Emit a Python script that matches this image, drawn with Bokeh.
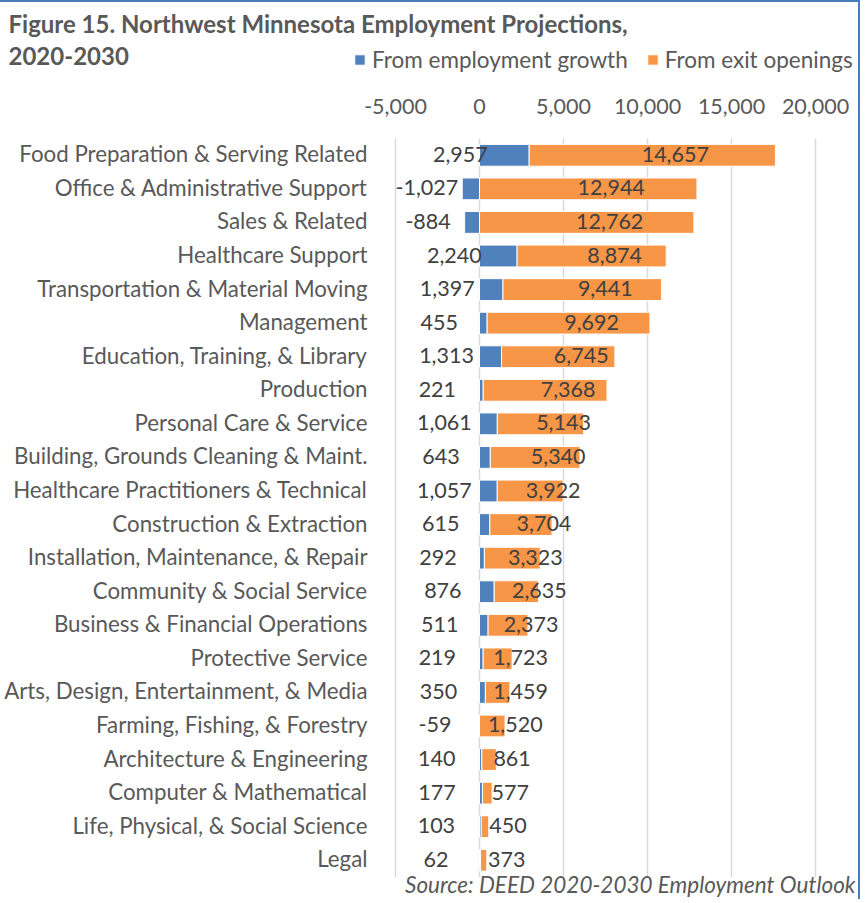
from bokeh.plotting import figure
from bokeh.models import (ColumnDataSource, Label, Range1d, Legend, LegendItem)
from bokeh.core.properties import value
from bokeh.embed import file_html
from bokeh.resources import INLINE

categories = [
    "Food Preparation & Serving Related",
    "Office & Administrative Support",
    "Sales & Related",
    "Healthcare Support",
    "Transportation & Material Moving",
    "Management",
    "Education, Training, & Library",
    "Production",
    "Personal Care & Service",
    "Building, Grounds Cleaning & Maint.",
    "Healthcare Practitioners & Technical",
    "Construction & Extraction",
    "Installation, Maintenance, & Repair",
    "Community & Social Service",
    "Business & Financial Operations",
    "Protective Service",
    "Arts, Design, Entertainment, & Media",
    "Farming, Fishing, & Forestry",
    "Architecture & Engineering",
    "Computer & Mathematical",
    "Life, Physical, & Social Science",
    "Legal",
]
growth = [2957, -1027, -884, 2240, 1397, 455, 1313, 221, 1061, 643, 1057,
          615, 292, 876, 511, 219, 350, -59, 140, 177, 103, 62]
exits = [14657, 12944, 12762, 8874, 9441, 9692, 6745, 7368, 5143, 5340, 3922,
         3704, 3323, 2635, 2373, 1723, 1459, 1520, 861, 577, 450, 373]
x_ticks = [-5000, 0, 5000, 10000, 15000, 20000]

BLUE = "#4f81bd"
ORANGE = "#f79646"
TXT = "#595959"
DARK = "#404040"
FONT = "Lato"
FS = "21.5px"
FS_CAT = "22.3px"
FS_LEG = "22.5px"

# ---- layout constants (pixels of the canvas) ----
W, H = 860, 899          # canvas; 2px border on top and right
TOP = 2                  # canvas starts 2px below page top (border)
X0_PX = 479              # pixel of value 0
PX_PER_UNIT = 84 / 5000
ROW0_PX = 154.8          # pixel centre of first row
ROW_PX = 33.57           # row pitch


def X(px):
    return (px - X0_PX) / PX_PER_UNIT


def Y(py):
    return (py - ROW0_PX) / ROW_PX


n = len(categories)
idx = list(range(n))
g_left = [min(g, 0) for g in growth]
g_right = [max(g, 0) for g in growth]
e_left = [max(g, 0) for g in growth]
e_right = [max(g, 0) + e for g, e in zip(growth, exits)]

src = ColumnDataSource(dict(
    y=idx, cat=categories,
    g_left=g_left, g_right=g_right, g_mid=[g / 2 for g in growth],
    e_left=e_left, e_right=e_right,
    e_mid=[(a + b) / 2 for a, b in zip(e_left, e_right)],
    g_txt=[f"{g:,}" for g in growth],
    e_txt=[f"{e:,}" for e in exits],
    lab_x=[x_ticks[0]] * n,
))

p = figure(width=W, height=H, output_backend="svg", toolbar_location=None,
           x_range=Range1d(X(0), X(W)), y_range=Range1d(Y(TOP + H), Y(TOP)),
           x_axis_location=None, y_axis_location=None, min_border=0)
p.styles = {"border-top": "2px solid #4a7ebb", "border-right": "2px solid #4a7ebb"}
p.outline_line_color = None
p.grid.grid_line_color = None
p.background_fill_color = "white"
p.border_fill_color = "white"

# vertical gridlines at the axis ticks
p.segment(x0=x_ticks, x1=x_ticks, y0=[-0.5] * len(x_ticks), y1=[n - 0.5] * len(x_ticks),
          line_color="#d9d9d9", line_width=1.5)
# tick labels (axis on top)
p.text(x=x_ticks, y=[Y(105.5)] * len(x_ticks), text=[f"{t:,}" for t in x_ticks],
       text_align="center", text_baseline="middle", text_font=value(FONT),
       text_font_size=FS, text_color=TXT)

rb = p.hbar(y="y", left="g_left", right="g_right", height=0.65, source=src,
            fill_color=BLUE, line_color="white", line_width=1)
ro = p.hbar(y="y", left="e_left", right="e_right", height=0.65, source=src,
            fill_color=ORANGE, line_color="white", line_width=1)

# category labels
p.text(x="lab_x", y="y", text="cat", source=src, x_offset=-28, y_offset=-1.5,
       text_align="right", text_baseline="middle", text_font=value(FONT),
       text_font_size=FS_CAT, text_color=TXT)
# value labels
p.text(x="g_mid", y="y", text="g_txt", source=src, x_offset=-44, y_offset=-1,
       text_align="center", text_baseline="middle", text_font=value(FONT),
       text_font_size=FS, text_color=DARK)
p.text(x="e_mid", y="y", text="e_txt", source=src, x_offset=23, y_offset=-1,
       text_align="center", text_baseline="middle", text_font=value(FONT),
       text_font_size=FS, text_color=DARK)

# titles (screen units: x from left, y from bottom of canvas)
bottom = TOP + H
for txt, y_img in [("Figure 15. Northwest Minnesota Employment Projections,", 23),
                   ("2020-2030", 55)]:
    p.add_layout(Label(x=8, y=bottom - y_img, x_units="screen", y_units="screen",
                       text=txt, text_align="left", text_baseline="middle",
                       text_font=FONT, text_font_size="24px", text_font_style="bold",
                       text_color=TXT))

p.add_layout(Label(x=855, y=bottom - 884, x_units="screen", y_units="screen",
                   text="Source: DEED 2020-2030 Employment Outlook",
                   text_align="right", text_baseline="middle",
                   text_font=FONT, text_font_size=FS_LEG, text_font_style="italic",
                   text_color=TXT))

legend = Legend(items=[LegendItem(label="From employment growth", renderers=[rb]),
                       LegendItem(label="From exit openings", renderers=[ro])],
                orientation="horizontal", location=(353, bottom - 73),
                glyph_width=13, glyph_height=13, label_standoff=6, spacing=18,
                padding=0, margin=0, border_line_color=None, background_fill_alpha=0,
                label_text_font=FONT, label_text_font_size=FS_LEG, label_text_color=TXT)
p.add_layout(legend, "center")

open("out.html", "w").write(file_html(p, INLINE))
